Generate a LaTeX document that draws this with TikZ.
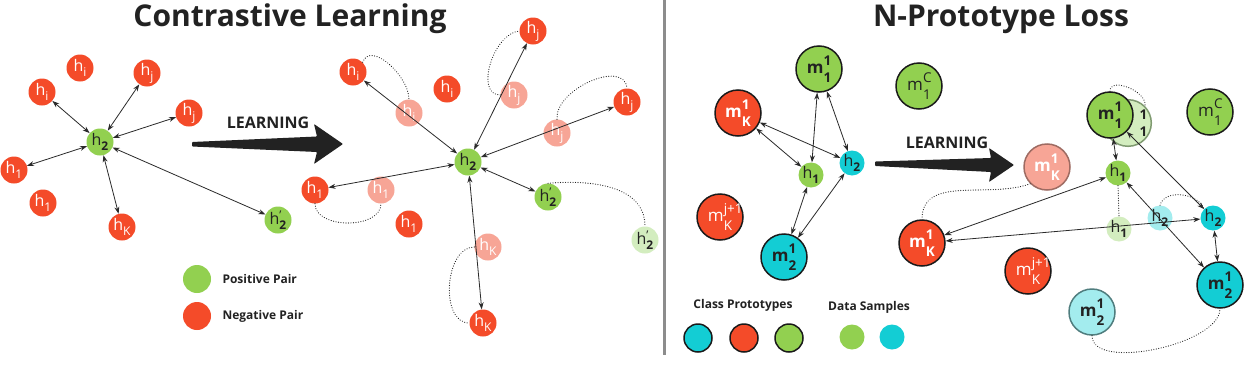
\documentclass[tikz,border=0pt]{standalone}
\usepackage{fontspec}
\setmainfont{Open Sans}
\usetikzlibrary{arrows.meta}
\definecolor{cred}{HTML}{F44B29}
\definecolor{credf}{HTML}{F7A596}
\definecolor{credfb}{HTML}{9E6B62}
\definecolor{cgreen}{HTML}{92D050}
\definecolor{cgreenf}{HTML}{D3EDBF}
\definecolor{cgreenfb}{HTML}{7F9A70}
\definecolor{ccyan}{HTML}{13CDD4}
\definecolor{ccyanf}{HTML}{A3ECEE}
\definecolor{ccyanfb}{HTML}{4F7D7E}
\definecolor{ctext}{HTML}{222222}
\definecolor{cborder}{HTML}{1A1A1A}
\definecolor{clink}{HTML}{2A2A2A}
\definecolor{cdiv}{HTML}{8C8C8C}
\newcommand\hsubr[1]{h\raisebox{-0.3em}{\fontsize{12}{12}\selectfont #1}}
\newcommand\hsubb[1]{h\raisebox{-0.3em}{\fontsize{12}{12}\selectfont\bfseries #1}}
\newcommand\hprime{h\rlap{\raisebox{0.3em}{\fontsize{12}{12}\selectfont '}}\raisebox{-0.3em}{\fontsize{12}{12}\selectfont\bfseries 2}}
\newcommand\mlab[3]{#1\rlap{\raisebox{0.5em}{\fontsize{13.5}{13.5}\selectfont #2}}\raisebox{-0.5em}{\fontsize{13.5}{13.5}\selectfont #3}}
\tikzset{
 smallnode/.style={circle, inner sep=0pt, minimum size=27pt, font=\fontsize{16}{16}\selectfont},
 redn/.style={smallnode, fill=cred, text=white},
 redfn/.style={smallnode, fill=credf, text=white},
 greenn/.style={smallnode, fill=cgreen, text=ctext},
 greenfn/.style={smallnode, fill=cgreenf, text=ctext},
 protobase/.style={circle, inner sep=0pt, minimum size=46pt, line width=1.5pt, draw=cborder, font=\fontsize{17}{17}\selectfont\bfseries},
 protoR/.style={protobase, fill=cred, text=white},
 protoG/.style={protobase, fill=cgreen, text=ctext},
 protoC/.style={protobase, fill=ccyan, text=ctext},
 protoRf/.style={protobase, fill=credf, draw=credfb, text=white},
 protoGf/.style={protobase, fill=cgreenf, draw=cgreenfb, text=ctext},
 protoCf/.style={protobase, fill=ccyanf, draw=ccyanfb, text=ctext},
 sampbase/.style={circle, inner sep=0pt, minimum size=25pt, font=\fontsize{16}{16}\selectfont, text=ctext},
 sampG/.style={sampbase, fill=cgreen},
 sampC/.style={sampbase, fill=ccyan},
 sampGf/.style={sampbase, fill=cgreenf},
 sampCf/.style={sampbase, fill=ccyanf},
 legproto/.style={circle, inner sep=0pt, minimum size=28pt, line width=1.5pt, draw=cborder},
 legsamp/.style={circle, inner sep=0pt, minimum size=25pt},
 legdot/.style={circle, inner sep=0pt, minimum size=28pt},
 link/.style={{Stealth[length=7pt,width=5pt]}-{Stealth[length=7pt,width=5pt]}, line width=0.8pt, draw=clink},
 trail/.style={line width=1.1pt, dash pattern=on 0.1pt off 2.4pt, line cap=round, draw=ctext},
 title/.style={font=\fontsize{30}{30}\selectfont\bfseries, text=ctext},
 learn/.style={font=\fontsize{16}{16}\selectfont\bfseries, text=ctext},
 legtext/.style={font=\fontsize{12}{12}\selectfont\bfseries, text=ctext},
}
\begin{document}
\begin{tikzpicture}[x=1pt,y=-1pt]
\useasboundingbox[fill=white] (0,0) rectangle (1245,367);
% divider
\draw[cdiv, line width=3pt] (664,0) -- (664,355);
% titles
\node[title] (t1) at (290,19) {Contrastive Learning};
\node[title] (t2) at (1001,19) {N-Prototype Loss};
% big arrows
\fill[ctext, rounded corners=0.8pt] (192,142) -- (317,136.5) -- (314,124) -- (343,144) -- (314,164) -- (317,152) -- (192,146.5) -- cycle;
\node[learn] (l1) at (268,123) {LEARNING};
\fill[ctext, rounded corners=0.8pt] (875,161.5) -- (991,158) -- (989,148) -- (1014,165) -- (989,182) -- (991,172) -- (875,166) -- cycle;
\node[learn] (l2) at (947,143) {LEARNING};

% ===== left panel =====
\node[redn] (Lhi1) at (80,68) {\hsubr{i}};
\node[redn] (Lhi2) at (42,92) {\hsubr{i}};
\node[redn] (Lhj1) at (147,73) {\hsubr{j}};
\node[redn] (Lhj2) at (189,113) {\hsubr{j}};
\node[greenn] (Lh2) at (100,142) {\hsubb{2}};
\node[redn] (Lh1a) at (14,170) {\hsubr{1}};
\node[redn] (Lh1b) at (43,203) {\hsubr{1}};
\node[redn] (LhK) at (122,227) {\hsubr{K}};
\node[greenn] (Lhp) at (278,220) {\hprime};
\foreach \t in {Lhi2,Lhj1,Lhj2,Lh1a,LhK,Lhp} \draw[link] (Lh2) -- (\t);
% legend
\node[legdot, fill=cgreen] (lgp) at (197,279) {};
\node[legtext, anchor=west] (lgpt) at (219,279) {Positive Pair};
\node[legdot, fill=cred] (lgn) at (197,316) {};
\node[legtext, anchor=west] (lgnt) at (219,316) {Negative Pair};

% ===== middle panel =====
\node[redfn] (Mhif) at (409,113) {\hsubr{i}};
\node[redfn] (Mhjf) at (514,95) {\hsubr{j}};
\node[redfn] (Mhj2f) at (557,133) {\hsubr{j}};
\node[redfn] (Mh1f) at (381,190) {\hsubr{1}};
\node[redfn] (MhKf) at (488,247) {\hsubr{K}};
\node[greenfn] (Mhpf) at (645,240) {\hprime};
\node[redn] (Mhj) at (533,31) {\hsubr{j}};
\node[redn] (Mhi) at (353,72) {\hsubr{i}};
\node[redn] (Mhi2) at (447,89) {\hsubr{i}};
\node[redn] (Mhj2) at (627,102) {\hsubr{j}};
\node[greenn] (Mh2) at (468,162) {\hsubb{2}};
\node[redn] (Mh1) at (315,190) {\hsubr{1}};
\node[greenn] (Mhp) at (548,197) {\hprime};
\node[redn] (Mh1b) at (409,224) {\hsubr{1}};
\node[redn] (MhK) at (483,323) {\hsubr{K}};
\foreach \t in {Mhi,Mhj,Mhj2,Mh1,MhK,Mhp} \draw[link] (Mh2) -- (\t);
\draw[trail] (Mhi.north east) to[out=70,in=90] (Mhif.north);
\draw[trail] (Mhjf.west) to[out=180,in=185] (Mhj.west);
\draw[trail] (Mhj2f.north) to[out=95,in=95] (Mhj2.north);
\draw[trail] (Mh1.south) to[out=-90,in=-90] (Mh1f.south);
\draw[trail] (MhKf.west) to[out=180,in=180] (MhK.west);
\draw[trail] (Mhp.north) to[out=5,in=90] (Mhpf.north);

% ===== right panel (before) =====
\node[protoG] (Rm11) at (819,69) {\mlab{m}{1}{1}};
\node[protoG] (RmC1) at (919,86) {\mlab{\mdseries m}{C}{1}};
\node[protoR] (RmK1) at (738,113) {\mlab{m}{1}{K}};
\node[sampG] (Rh1) at (811,175) {\hsubb{1}};
\node[sampC] (Rh2) at (852,163) {\hsubb{2}};
\node[protoR] (RmKj) at (720,217) {\mdseries\mlab{m}{j+1}{K}};
\node[protoC] (Rm21) at (784,257) {\mlab{m}{1}{2}};
\foreach \a in {RmK1,Rm11,Rm21} {
  \draw[link] (\a) -- (Rh1);
  \draw[link] (\a) -- (Rh2);
}
% legend
\node[legtext] (lcp) at (743,305) {Class Prototypes};
\node[legproto, fill=ccyan] (lc1) at (698,338) {};
\node[legproto, fill=cred] (lc2) at (744,338) {};
\node[legproto, fill=cgreen] (lc3) at (789,338) {};
\node[legtext] (lds) at (869,307) {Data Samples};
\node[legsamp, fill=cgreen] (ld1) at (852,337) {};
\node[legsamp, fill=ccyan] (ld2) at (892,337) {};

% ===== right panel (after) =====
\node[protoRf] (SmK1f) at (1047,167) {\mlab{m}{1}{K}};
\node[protoGf] (Sm11f) at (1128,123) {\hspace*{14pt}\mlab{\phantom{m}}{1}{1}};
\node[sampGf] (Sh1f) at (1119,229) {\hsubb{1}};
\node[sampCf] (Sh2f) at (1160,218) {\hsubb{2}};
\node[protoCf] (Sm21f) at (1092,312) {\mlab{m}{1}{2}};
\node[protoG] (Sm11) at (1110,115) {\mlab{m}{1}{1}};
\node[protoG] (SmC1) at (1210,112) {\mlab{\mdseries m}{C}{1}};
\node[sampG] (Sh1) at (1118,173) {\hsubb{1}};
\node[sampC] (Sh2) at (1213,218) {\hsubb{2}};
\node[protoR] (SmK1) at (922,243) {\mlab{m}{1}{K}};
\node[protoR] (SmKj) at (1028,271) {\mdseries\mlab{m}{j+1}{K}};
\node[protoC] (Sm21) at (1220,285) {\mlab{m}{1}{2}};
\draw[link] (Sm11) -- (Sh1);
\draw[link] (Sm11) -- (Sh2);
\draw[link] (Sh1) -- (SmK1);
\draw[link] (Sh1) -- (Sm21);
\draw[link] (Sh2) -- (SmK1);
\draw[link] (Sh2) -- (Sm21);
\draw[trail] (SmK1f.south west) to[out=200,in=90] (SmK1.north);
\draw[trail] (Sm11.north) to[out=90,in=80] (Sm11f.north east);
\draw[trail] (Sh1.south) -- (Sh1f.north);
\draw[trail] (Sh2f.north) to[out=75,in=110] (Sh2.north west);
\draw[trail] (Sm21f.south) to[out=-90,in=-90,looseness=0.7] (Sm21.south);
\end{tikzpicture}
\end{document}
